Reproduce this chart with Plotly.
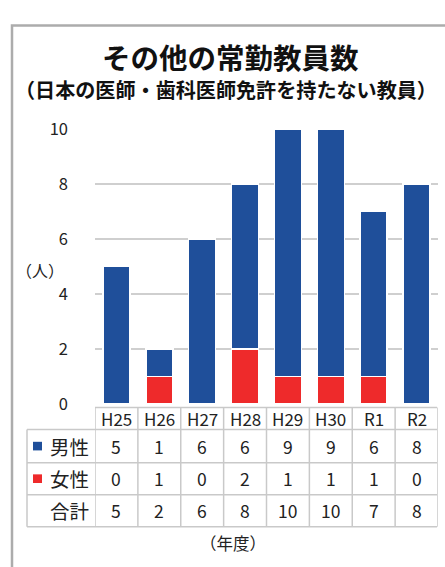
import plotly.graph_objects as go

years = ["H25", "H26", "H27", "H28", "H29", "H30", "R1", "R2"]
male = [5, 1, 6, 6, 9, 9, 6, 8]
female = [0, 1, 0, 2, 1, 1, 1, 0]
total = [m + f for m, f in zip(male, female)]
row_labels = ["男性", "女性", "合計"]
y_ticks = [0, 2, 4, 6, 8, 10]

BLUE = "#1f4f9a"
RED = "#ee2a2b"
GRID = "#cfcfcf"
FONT = "Noto Sans CJK JP"
W, H = 445, 567


def px(x):
    return x / W


def py(y):
    return 1 - y / H


fig = go.Figure()
fig.add_bar(x=years, y=female, marker=dict(color=RED, line=dict(color="white", width=1.5)),
            width=0.63, name="女性")
fig.add_bar(x=years, y=male, marker=dict(color=BLUE, line=dict(color="white", width=1.5)),
            width=0.63, name="男性")

shapes = []
annotations = []

# outer frame
shapes.append(dict(type="rect", xref="paper", yref="paper", x0=px(12), x1=px(460), y0=py(600), y1=py(13),
                   line=dict(color="#acacac", width=2.5), layer="below"))

# data table grid
col_left, col_right = 95, 437
lab_left = 27
hdr_top, hdr_bot = 412, 435
row_edges = [435, 469.5, 503, 536.5]
line_style = dict(color="#c9c9c9", width=1.5)

shapes.append(dict(type="line", xref="paper", yref="paper", x0=px(col_left), x1=px(col_right),
                   y0=py(hdr_top), y1=py(hdr_top), line=line_style))
for ye in row_edges:
    shapes.append(dict(type="line", xref="paper", yref="paper", x0=px(lab_left), x1=px(col_right),
                       y0=py(ye), y1=py(ye), line=line_style))
shapes.append(dict(type="line", xref="paper", yref="paper", x0=px(lab_left), x1=px(lab_left),
                   y0=py(row_edges[0]), y1=py(row_edges[-1]), line=line_style))
for i in range(len(years) + 1):
    shapes.append(dict(type="line", xref="x", yref="paper", x0=i - 0.5, x1=i - 0.5,
                       y0=py(hdr_top), y1=py(row_edges[-1]), line=line_style))

for i, yr in enumerate(years):
    annotations.append(dict(x=i, xref="x", y=py((hdr_top + hdr_bot) / 2), yref="paper", text=yr,
                            showarrow=False, font=dict(family=FONT, size=17, color="#222"),
                            xanchor="center", yanchor="middle"))

rows = [male, female, total]
for r, vals in enumerate(rows):
    yc = (row_edges[r] + row_edges[r + 1]) / 2
    for i, v in enumerate(vals):
        annotations.append(dict(x=i, xref="x", y=py(yc), yref="paper", text=str(v), showarrow=False,
                                font=dict(family=FONT, size=17.5, color="#222"),
                                xanchor="center", yanchor="middle"))
    annotations.append(dict(x=px(91), xref="paper", y=py(yc), yref="paper", text=row_labels[r],
                            showarrow=False, font=dict(family=FONT, size=19.5, color="#222"),
                            xanchor="right", yanchor="middle"))

for r, col in enumerate([BLUE, RED]):
    yc = (row_edges[r] + row_edges[r + 1]) / 2
    shapes.append(dict(type="rect", xref="paper", yref="paper", x0=px(33), x1=px(42),
                       y0=py(yc + 4.5), y1=py(yc - 4.5), fillcolor=col, line=dict(width=0)))

annotations.append(dict(x=px(230), y=py(45), xref="paper", yref="paper", text="<b>その他の常勤教員数</b>",
                        showarrow=False, font=dict(family=FONT, size=28.5, color="#111"),
                        xanchor="center", yanchor="middle"))
annotations.append(dict(x=px(226), y=py(80), xref="paper", yref="paper",
                        text="<b>（日本の医師・歯科医師免許を持たない教員）</b>",
                        showarrow=False, font=dict(family=FONT, size=20.1, color="#111"),
                        xanchor="center", yanchor="middle"))
annotations.append(dict(x=px(40), y=py(268), xref="paper", yref="paper", text="（人）",
                        showarrow=False, font=dict(family=FONT, size=16, color="#222"),
                        xanchor="center", yanchor="middle"))
annotations.append(dict(x=px(233), y=py(553), xref="paper", yref="paper", text="（年度）",
                        showarrow=False, font=dict(family=FONT, size=16.5, color="#222"),
                        xanchor="center", yanchor="middle"))

fig.update_layout(
    width=W, height=H,
    margin=dict(l=0, r=0, t=0, b=0),
    paper_bgcolor="white", plot_bgcolor="white",
    barmode="stack", showlegend=False,
    shapes=shapes, annotations=annotations,
    xaxis=dict(domain=[px(col_left), px(438)], range=[-0.5, 7.5], type="category",
               showticklabels=False, showgrid=False, zeroline=False, showline=False, fixedrange=True),
    yaxis=dict(domain=[py(408.5), py(121)], range=[0, 10], tickvals=y_ticks,
               showgrid=True, gridcolor=GRID, gridwidth=1.5, zeroline=False, showline=False,
               ticks="", ticklabelstandoff=26,
               tickfont=dict(family=FONT, size=16.5, color="#222"), fixedrange=True),
)

fig.write_html("out.html", config={"displayModeBar": False},
               post_script="document.body.style.margin='0';document.body.style.overflow='hidden';")
